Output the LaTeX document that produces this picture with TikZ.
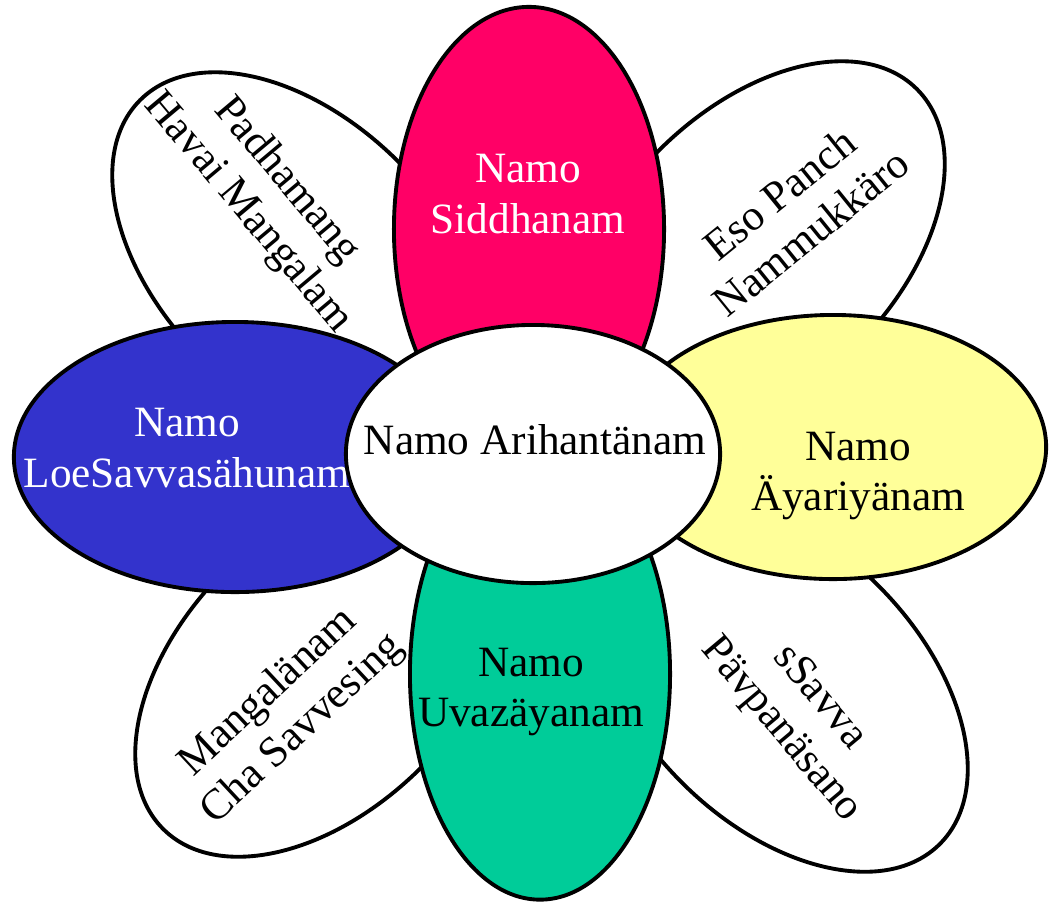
\documentclass[tikz,border=0pt]{standalone}
\usepackage{fontspec}
\setmainfont{Liberation Serif}
\usetikzlibrary{shapes.geometric}
\definecolor{pinkp}{HTML}{FF0066}
\definecolor{bluep}{HTML}{3333CC}
\definecolor{yellowp}{HTML}{FFFF99}
\definecolor{greenp}{HTML}{00CC99}
\tikzset{
  outline/.style={draw=black, line width=1.1pt, ellipse, inner sep=0pt, outer sep=0pt},
  petal/.style={outline, fill=white, minimum width=4.52cm, minimum height=2.78cm},
  lbl/.style={font=\fontsize{12.3}{14.3}\selectfont, align=center, inner sep=0pt},
}
\begin{document}
\begin{tikzpicture}[x=0.01cm, y=-0.01cm]
\useasboundingbox (0,0) rectangle (1049,905);
% diagonal petals
\node[petal, rotate=-45] (ptl) at (300,260) {};
\node[petal, rotate=45]  (ptr) at (757,249) {};
\node[petal, rotate=45]  (pbl) at (323,669) {};
\node[petal, rotate=-45] (pbr) at (780,684) {};
\node[lbl, rotate=-50] (ttl) at (267,197) {Padhamang\\Havai Mangalam};
\node[lbl, rotate=39]  (ttr) at (795,213) {Eso Panch\\Nammukkäro};
\node[lbl, rotate=43]  (tbl) at (286,711) {Mangalänam\\Cha Savvesing};
\node[lbl, rotate=-50] (tbr) at (800,714) {sSavva\\Pävpanäsano};
% coloured petals
\node[outline, fill=pinkp, minimum width=2.70cm, minimum height=4.44cm] (top) at (529,229) {};
\node[outline, fill=greenp, minimum width=2.60cm, minimum height=4.51cm] (bot) at (540,674) {};
\node[outline, fill=bluep, minimum width=4.42cm, minimum height=2.70cm] (lft) at (235,457) {};
\node[outline, fill=yellowp, minimum width=4.26cm, minimum height=2.64cm] (rgt) at (833,447) {};
\node[lbl, text=white] (ttop) at (528,194) {Namo\\Siddhanam};
\node[lbl] (tbot) at (531,692) {Namo\\Uvazäyanam};
\node[lbl, text=white] (tlft) at (187,448) {Namo\\LoeSavvasähunam};
\node[lbl] (trgt) at (858,476) {Namo\\Äyariyänam};
% centre
\node[outline, fill=white, minimum width=3.74cm, minimum height=2.58cm] (ctr) at (533,454) {};
\node[lbl] (tctr) at (535,440) {Namo Arihantänam};
\end{tikzpicture}
\end{document}
